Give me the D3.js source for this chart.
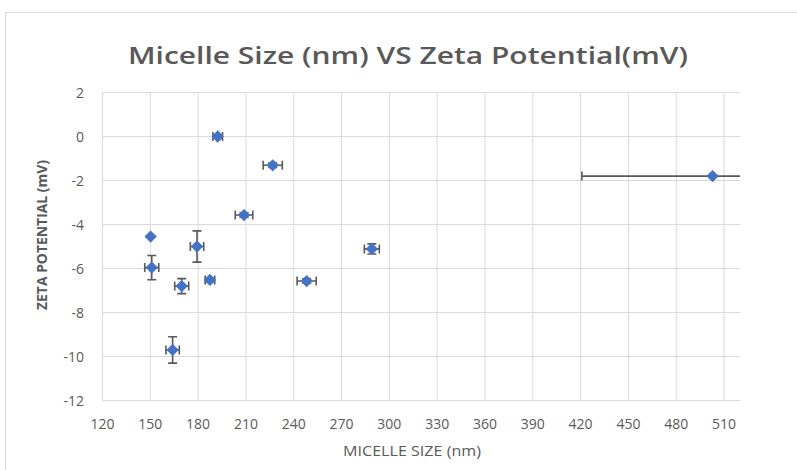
<!DOCTYPE html>
<html>
<head>
<meta charset="utf-8">
<script src="https://cdn.jsdelivr.net/npm/d3@7"></script>
<style>
  body { margin: 0; background: #fff; }
  svg { display: block; }
  text { font-family: "Open Sans", "Liberation Sans", sans-serif; fill: #595959; }
</style>
</head>
<body>
<script>
// data
var sizes    = [192.3, 226.8, 208.8, 150.2, 179.3, 150.9, 169.7, 187.4, 248.1, 164.0, 289.0, 502.8];
var zetas    = [0, -1.31, -3.57, -4.55, -5.0, -5.96, -6.8, -6.52, -6.57, -9.7, -5.11, -1.8];
var sizeErr  = [3, 6, 5.5, 0, 4.2, 4.4, 4.4, 3, 6, 4.2, 4.7, 82];
var zetaErr  = [0.05, 0.1, 0.1, 0, 0.71, 0.55, 0.34, 0.08, 0.1, 0.6, 0.23, 0];
var xTicks   = [120, 150, 180, 210, 240, 270, 300, 330, 360, 390, 420, 450, 480, 510];
var yTicks   = [2, 0, -2, -4, -6, -8, -10, -12];

var w = 797, h = 470;
var pLeft = 102.5, pRight = 740, pTop = 92.5, pBottom = 400.5;

var svg = d3.select("body").append("svg")
    .attr("width", w)
    .attr("height", h);

// chart frame
svg.append("rect")
    .attr("x", 5.5).attr("y", 12.5)
    .attr("width", w + 10).attr("height", h + 10)
    .attr("fill", "none")
    .attr("stroke", "#d9d9d9");

var x = d3.scaleLinear().domain([120, 520]).range([pLeft, pRight]);
var y = d3.scaleLinear().domain([-12, 2]).range([pBottom, pTop]);

// grid
svg.append("g").selectAll("line")
    .data(xTicks).enter().append("line")
    .attr("x1", d => x(d)).attr("x2", d => x(d))
    .attr("y1", pTop).attr("y2", pBottom)
    .attr("stroke", "#d9d9d9").attr("stroke-width", 1);

svg.append("g").selectAll("line")
    .data(yTicks).enter().append("line")
    .attr("x1", pLeft).attr("x2", pRight)
    .attr("y1", d => y(d)).attr("y2", d => y(d))
    .attr("stroke", "#d9d9d9").attr("stroke-width", 1);

// tick labels
svg.append("g").selectAll("text")
    .data(xTicks).enter().append("text")
    .attr("x", d => x(d))
    .attr("y", 429)
    .attr("text-anchor", "middle")
    .style("font-size", "14px")
    .text(d => d);

svg.append("g").selectAll("text")
    .data(yTicks).enter().append("text")
    .attr("x", 84)
    .attr("y", d => y(d) + 5)
    .attr("text-anchor", "end")
    .style("font-size", "14px")
    .text(d => d);

// titles
svg.append("text")
    .attr("x", 408).attr("y", 64)
    .attr("text-anchor", "middle")
    .attr("textLength", 560)
    .attr("lengthAdjust", "spacingAndGlyphs")
    .style("font-size", "24px")
    .style("font-weight", 600)
    .text("Micelle Size (nm) VS Zeta Potential(mV)");

svg.append("text")
    .attr("x", 412).attr("y", 456)
    .attr("text-anchor", "middle")
    .attr("textLength", 138)
    .attr("lengthAdjust", "spacingAndGlyphs")
    .style("font-size", "14px")
    .text("MICELLE SIZE (nm)");

svg.append("text")
    .attr("transform", "translate(47,235) rotate(-90)")
    .attr("text-anchor", "middle")
    .attr("textLength", 150)
    .attr("lengthAdjust", "spacingAndGlyphs")
    .style("font-size", "14px")
    .style("font-weight", 700)
    .text("ZETA POTENTIAL (mV)");

// points
var pts = sizes.map((s, i) => ({x: s, y: zetas[i], ex: sizeErr[i], ey: zetaErr[i]}));

svg.append("clipPath").attr("id", "plot")
  .append("rect")
    .attr("x", pLeft).attr("y", pTop)
    .attr("width", pRight - pLeft).attr("height", pBottom - pTop);

var bars = svg.append("g")
    .attr("clip-path", "url(#plot)")
    .attr("stroke", "#595959")
    .attr("stroke-width", 1.6)
    .attr("fill", "none");

var cap = 4.5;
pts.forEach(function(d) {
  var cx = x(d.x), cy = y(d.y);
  if (d.ex > 0) {
    var x0 = x(d.x - d.ex), x1 = x(d.x + d.ex);
    bars.append("line").attr("x1", x0).attr("x2", x1).attr("y1", cy).attr("y2", cy);
    bars.append("line").attr("x1", x0).attr("x2", x0).attr("y1", cy - cap).attr("y2", cy + cap);
    bars.append("line").attr("x1", x1).attr("x2", x1).attr("y1", cy - cap).attr("y2", cy + cap);
  }
  if (d.ey > 0) {
    var y0 = y(d.y - d.ey), y1 = y(d.y + d.ey);
    bars.append("line").attr("x1", cx).attr("x2", cx).attr("y1", y0).attr("y2", y1);
    bars.append("line").attr("x1", cx - cap).attr("x2", cx + cap).attr("y1", y0).attr("y2", y0);
    bars.append("line").attr("x1", cx - cap).attr("x2", cx + cap).attr("y1", y1).attr("y2", y1);
  }
});

var diamond = d3.symbol().type(d3.symbolSquare).size(76);
svg.append("g").selectAll("path")
    .data(pts).enter().append("path")
    .attr("d", diamond)
    .attr("transform", d => "translate(" + x(d.x) + "," + y(d.y) + ") rotate(45)")
    .attr("fill", "#4472C4");
</script>
</body>
</html>
